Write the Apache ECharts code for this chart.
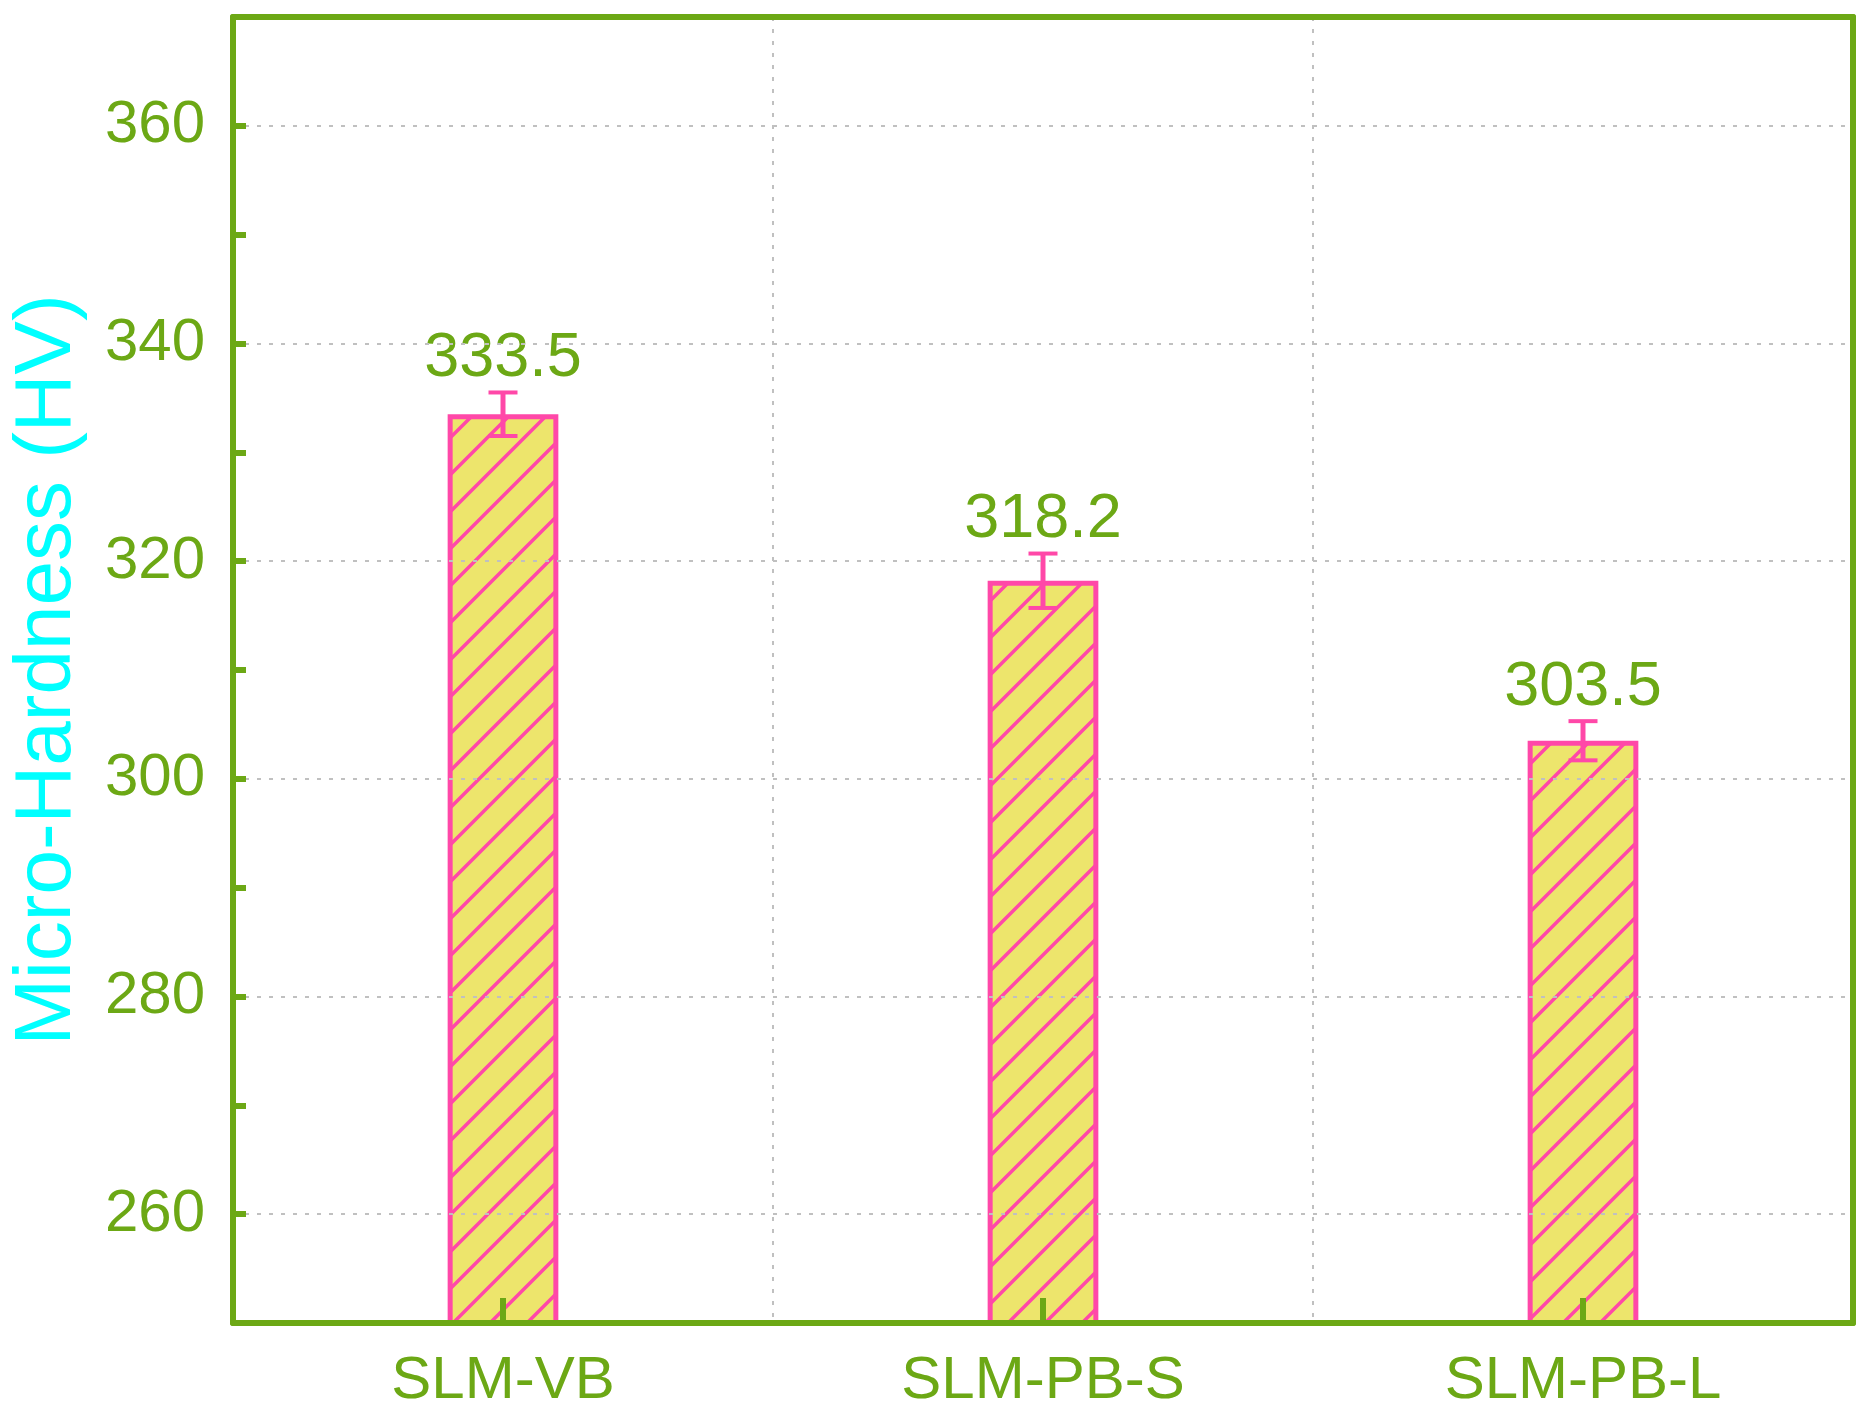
<!DOCTYPE html>
<html>
<head>
<meta charset="utf-8">
<script src="https://cdn.jsdelivr.net/npm/echarts@6/dist/echarts.min.js"></script>
<style>
  html, body { margin: 0; padding: 0; background: #fff; }
  #chart { width: 1871px; height: 1417px; }
</style>
</head>
<body>
<div id="chart"></div>
<script>
// data
const categories = ['SLM-VB', 'SLM-PB-S', 'SLM-PB-L'];
const hardness = [333.5, 318.2, 303.5];
const hardnessErr = [2.0, 2.5, 1.8];
const valueLabels = ['333.5', '318.2', '303.5'];
const yMin = 250;
const yMax = 370;

const GREEN = '#6ca815';
const PINK = '#ff48a8';
const YELLOW = '#ede56c';
const FONT = 'Arial, "Liberation Sans", sans-serif';

// diagonal hatch tile for the bars
function hatchPattern() {
  const s = 37;
  const c = document.createElement('canvas');
  c.width = s;
  c.height = s;
  const ctx = c.getContext('2d');
  ctx.fillStyle = YELLOW;
  ctx.fillRect(0, 0, s, s);
  ctx.strokeStyle = PINK;
  ctx.lineWidth = 3.5;
  ctx.beginPath();
  ctx.moveTo(-2, s + 2); ctx.lineTo(s + 2, -2);
  ctx.moveTo(-3, 3); ctx.lineTo(3, -3);
  ctx.moveTo(s - 3, s + 3); ctx.lineTo(s + 3, s - 3);
  ctx.stroke();
  return c;
}

const errData = hardness.map((v, i) => [i, v - hardnessErr[i], v + hardnessErr[i], v]);

const frameLine = { show: true, lineStyle: { color: GREEN, width: 6 } };
const gridDots = { show: true, lineStyle: { color: '#c0c0c0', width: 2, type: [4, 8] } };

const chart = echarts.init(document.getElementById('chart'));
chart.setOption({
  animation: false,
  textStyle: { fontFamily: FONT },
  grid: { left: 232, right: 18, top: 17, bottom: 94 },
  xAxis: [
    {
      type: 'category',
      data: categories,
      position: 'bottom',
      z: 10,
      axisLine: frameLine,
      axisTick: { show: false },
      axisLabel: { color: GREEN, fontSize: 60, margin: 28, fontFamily: FONT },
      splitLine: gridDots
    },
    {
      // top frame
      type: 'category',
      data: categories,
      position: 'top',
      z: 10,
      axisLine: frameLine,
      axisTick: { show: false },
      axisLabel: { show: false },
      splitLine: { show: false }
    }
  ],
  yAxis: [
    {
      type: 'value',
      min: yMin,
      max: yMax,
      position: 'left',
      z: 10,
      name: 'Micro-Hardness (HV)',
      nameLocation: 'middle',
      nameGap: 145,
      nameTextStyle: { color: '#00ffff', fontSize: 80, fontFamily: FONT },
      axisLine: frameLine,
      axisTick: { inside: true, length: 26, lineStyle: { color: GREEN, width: 6 } },
      axisLabel: { color: GREEN, fontSize: 60, margin: 28, showMinLabel: false, showMaxLabel: false, fontFamily: FONT },
      splitLine: gridDots
    },
    {
      // minor ticks only
      type: 'value',
      min: yMin,
      max: yMax,
      interval: 10,
      position: 'left',
      z: 10,
      axisLine: { show: false },
      axisTick: { show: true, inside: true, length: 13, lineStyle: { color: GREEN, width: 6 } },
      axisLabel: { show: false },
      splitLine: { show: false }
    },
    {
      // right frame
      type: 'value',
      min: yMin,
      max: yMax,
      position: 'right',
      z: 10,
      axisLine: frameLine,
      axisTick: { show: false },
      axisLabel: { show: false },
      splitLine: { show: false }
    }
  ],
  series: [
    {
      type: 'bar',
      z: 1,
      data: hardness,
      barWidth: '20.5%',
      itemStyle: {
        color: { image: hatchPattern(), repeat: 'repeat' },
        borderColor: PINK,
        borderWidth: 5
      }
    },
    {
      type: 'custom',
      z: 4,
      data: errData,
      renderItem: function (params, api) {
        const i = api.value(0);
        const lo = api.coord([i, api.value(1)]);
        const hi = api.coord([i, api.value(2)]);
        const base = api.coord([i, yMin]);
        const hw = 14.5;
        return {
          type: 'group',
          children: [
            // inward category tick on the bottom axis
            { type: 'line', shape: { x1: base[0], y1: base[1], x2: base[0], y2: base[1] - 25 }, style: { stroke: GREEN, lineWidth: 6 } },
            { type: 'line', shape: { x1: hi[0], y1: hi[1], x2: lo[0], y2: lo[1] }, style: { stroke: PINK, lineWidth: 5 } },
            { type: 'line', shape: { x1: hi[0] - hw, y1: hi[1], x2: hi[0] + hw, y2: hi[1] }, style: { stroke: PINK, lineWidth: 4 } },
            { type: 'line', shape: { x1: lo[0] - hw, y1: lo[1], x2: lo[0] + hw, y2: lo[1] }, style: { stroke: PINK, lineWidth: 4 } },
            {
              type: 'text',
              x: hi[0],
              y: hi[1] - 2,
              style: {
                text: valueLabels[params.dataIndex],
                fill: GREEN,
                font: '63px ' + FONT,
                align: 'center',
                verticalAlign: 'bottom'
              }
            }
          ]
        };
      }
    }
  ]
});
</script>
</body>
</html>
